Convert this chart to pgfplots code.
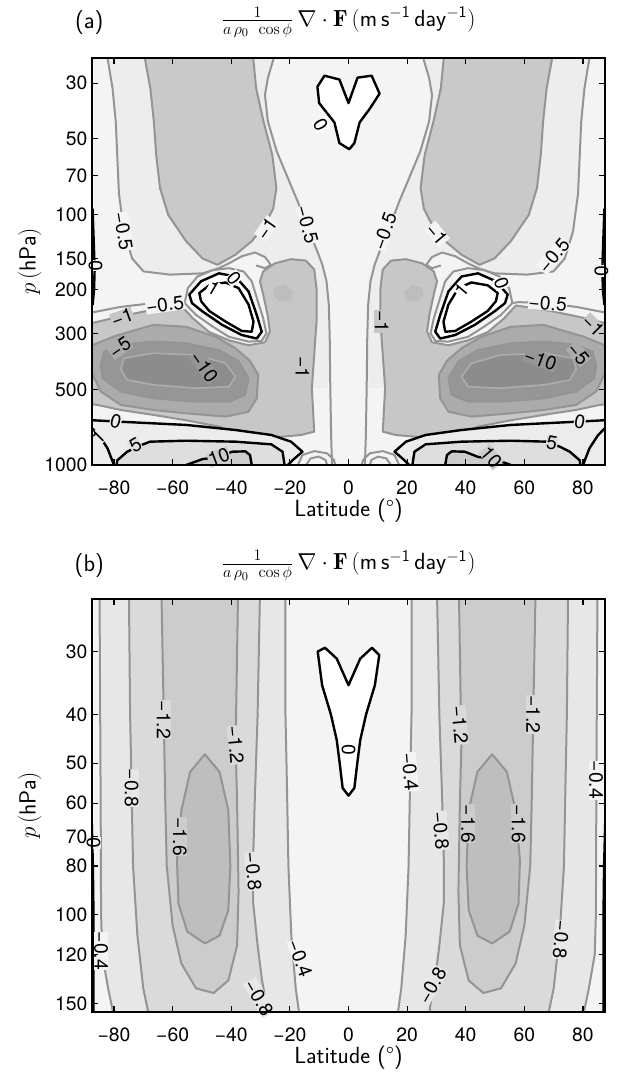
\documentclass[border=0pt]{standalone}
\usepackage{pgfplots}
\pgfplotsset{compat=1.18}
\usepackage{pgfplotstable}
\usepackage{fontspec}
\newfontfamily\heros{TeX Gyre Heros}

% grey levels of the filled contours
\definecolor{bgA}{gray}{0.957}
\definecolor{cBand}{gray}{0.93}
\definecolor{cLobe}{gray}{0.79}
\definecolor{cBlob}{gray}{0.78}
\definecolor{cFive}{gray}{0.67}
\definecolor{cTen}{gray}{0.59}
\definecolor{cCore}{gray}{0.55}
\definecolor{cPatch}{gray}{0.74}
\definecolor{pOne}{gray}{0.925}
\definecolor{pFive}{gray}{0.87}
\definecolor{pTen}{gray}{0.80}
\definecolor{cB1}{gray}{0.905}
\definecolor{cB2}{gray}{0.855}
\definecolor{cB3}{gray}{0.80}
\definecolor{cB4}{gray}{0.745}
\definecolor{cline}{gray}{0.58}
\definecolor{cinner}{gray}{0.68}

% ---------------- panel (a): southern half, mirrored for the north
% light band between the -0.5 contours, above the lower blob
\pgfplotstableread{
x y
-82.5 20
-82.2 23.8
-80.5 31.4
-79.4 42.6
-78.9 57.9
-78.3 83
-76.6 117
-73.8 150
-69.9 169
-61 174
-49.8 172
-44.2 164
-40.8 157
-36.4 147
-31.9 142
-28.5 148
-25.2 157
-19.6 151
-14.5 153
-11.7 166
-10.9 197
-10.9 268
-11.7 364
-12.5 494
-7 494
-6.4 312
-6.7 230
-7.5 185
-8.9 159
-10.6 141
-12.9 121
-15.1 104
-17.3 89
-20.7 71.6
-24.5 56
-27.5 42.6
-28.5 33.4
-27.5 28.6
-25.5 23.8
-25.5 20
}\aBand
% outer -0.5 contour
\pgfplotstableread{
x y
-82.5 20
-82.2 23.8
-80.5 31.4
-79.4 42.6
-78.9 57.9
-78.3 83
-76.6 117
-73.8 150
-69.9 169
-61 174
-49.8 172
-44.2 164
-40.8 157
-36.4 147
-31.9 142
-28.5 148
-26.5 159
-28.5 164
-31.5 160
}\aOutL
% inner -0.5 contour
\pgfplotstableread{
x y
-25.5 20
-25.5 23.8
-27.5 28.6
-28.5 33.4
-27.5 42.6
-24.5 56
-20.7 71.6
-17.3 89
-15.1 104
-12.9 121
-10.6 141
-8.9 159
-7.5 185
-6.7 230
-6.4 312
-6.2 494
-5.9 783
-5.6 1000
-5.6 1100
}\aInL
% upper lobe, -1 contour
\pgfplotstableread{
x y
-69.5 20
-69.5 23.8
-67.6 31.4
-66.4 42.6
-65.6 57.9
-64.3 78.6
-61.5 100.5
-55.4 128
-49.8 150
-44.7 159
-38.6 145
-33 128
-28.5 110
-25.7 95
-24.6 78.6
-26 57.9
-29 42.6
-31.5 31.4
-32.5 23.8
-32.6 20
}\aUp
% lower blob and tower, -1 contour
\pgfplotstableread{
x y
-89 285
-87.2 271
-77.7 255
-66.6 240
-57.1 231
-53.1 260
-47.5 295
-40.8 318
-34.1 333
-28.5 324
-26.8 293
-27.6 252
-29.1 209
-30.2 185
-29.1 169
-25.2 157
-19.6 151
-14.5 153
-11.7 166
-10.9 197
-10.9 268
-11.7 364
-12.5 494
-12 631
-11.7 736
-16.2 759
-26.3 778
-37.5 757
-44.2 703
-55.4 663
-66.6 631
-77.7 603
-85.6 576
-89 570
}\aLoA
% -5 contour
\pgfplotstableread{
x y
-89 332
-87.2 332
-80 307
-66.6 276
-55.4 281
-45.3 308
-38.6 342
-33.6 384
-30.8 437
-31.3 542
-34.1 613
-41.9 641
-55.4 622
-66.6 603
-77.7 576
-84.5 509
-87.2 437
-89 437
}\aLoB
% -10 contour
\pgfplotstableread{
x y
-83.3 353
-77.7 332
-66.6 322
-55.4 327
-44.2 348
-37.5 386
-34.1 451
-35.2 525
-40.8 559
-52 559
-66.6 542
-77.7 509
-83.9 451
-84.5 399
}\aLoC
% innermost contour of the blob
\pgfplotstableread{
x y
-76.6 375
-66.6 358
-52 364
-41.9 393
-38.6 444
-40.8 487
-52 494
-66.6 479
-75.5 458
-77.7 414
}\aLoD
% darker patch in the tower
\pgfplotstableread{
x y
-25.2 197
-21.8 191
-19 203
-19.6 221
-23 224
-25.7 212
}\aPatch
% -0.5 ring round the positive cell
\pgfplotstableread{
x y
-55.9 226
-54.8 197
-51.5 177
-46.4 167
-40.8 164
-35.8 169
-33 185
-31.3 215
-29.1 260
-28 298
-29.6 320
-34.1 322
-40.8 308
-46.4 280
-52 252
}\aRing
% 0 contour of the positive cell
\pgfplotstableread{
x y
-54.3 209
-50.3 185
-44.2 172
-38.6 177
-34.1 203
-31.3 252
-29.6 294
-31.3 313
-36.4 303
-43.1 276
-49.8 244
-53.4 226
}\aLoopZ
% 1 contour of the positive cell
\pgfplotstableread{
x y
-50.9 206
-47.5 192
-41.9 187
-37.5 197
-34.1 229
-32.4 268
-33 294
-36.4 292
-41.9 268
-47.5 243
-50.3 222
}\aLoopP
% -0.5 contour coming in from the pole
\pgfplotstableread{
x y
-90 248
-87.2 246
-77.7 234
-66.6 226
-58 224
-55.9 226
}\aMidL
% 0 contour near the ground
\pgfplotstableread{
x y
-90 660
-87.2 663
-77.7 672
-55.4 692
-38.6 725
-26.3 759
-19.6 807
-15.7 885
-19 955
-20.7 1000
-21.5 1100
-90 1100
}\aPos
% 5 contour
\pgfplotstableread{
x y
-79.5 1100
-78.9 958
-75.5 885
-72.1 845
-67.7 807
-55.4 800
-38.6 807
-26.3 827
-22.5 885
-21.8 1000
-21.8 1100
}\aPosB
% 10 contour
\pgfplotstableread{
x y
-56 1100
-55.4 1000
-49.8 947
-44.2 928
-39.7 885
-35.2 882
-33.6 912
-33 1000
-33 1100
}\aPosC
% 1 contour in the polar corner
\pgfplotstableread{
x y
-89 700
-87.2 718
-85 764
-82.2 858
-80 1000
-79.5 1100
}\aPosOne
\pgfplotstableread{
x y
-17.6 1100
-17.3 1000
-15.7 912
-11.7 880
-7.3 898
-5 953
-4.5 1000
-4.4 1100
}\aArcA
\pgfplotstableread{
x y
-14.6 1100
-14.5 1000
-12.9 941
-10.1 926
-7.8 955
-7.3 1000
-7.3 1100
}\aArcB
\pgfplotstableread{
x y
-87.3 95
-86.9 130
-86.6 165
-86.8 200
-87.3 230
}\aEdge
\pgfplotstableread{
x y
-10.6 31
-8.2 28
-3.1 29
0 36
3.1 28.5
7.9 28
10.6 33
7.2 38
3.8 43
2 52
0.3 55
-3.1 52
-4.8 43
-10 36
}\aZero

% ---------------- panel (b)
% -0.4 contours and the band inside them
\pgfplotstableread{
x y
-85 20
-84.7 40
-84.5 70
-84.4 100
-84 120
-82 140
-79 170
-16 170
-18 140
-19.5 110
-20.5 80
-21 55
-21.5 40
-21.5 20
}\bA
% -0.8 contours
\pgfplotstableread{
x y
-75 20
-74.5 40
-74 56
-73.5 80
-72 110
-70 140
-67 170
-27 170
-28 150
-29.5 135
-31 115
-32.5 95
-32.5 77
-32 60
-31 40
-30 20
}\bB
% -1.2 contour
\pgfplotstableread{
x y
-64 20
-63 41
-62.5 60
-62 80
-60 105
-57 125
-52 140
-46 143
-41 135
-38 115
-37.5 90
-38 60
-38.5 46
-38 30
-37.5 20
}\bC
% -1.6 contour
\pgfplotstableread{
x y
-49 48
-44 52
-41 62
-40.3 80
-41 98
-44 110
-49 114
-55 108
-58 95
-58.5 78
-57 62
-54 52
}\bD
\pgfplotstableread{
x y
-87.6 65
-87.2 80
-87 100
-87 160
}\bE
\pgfplotstableread{
x y
-10.5 30
-8 29.5
-4 31
0 35
4 31
8 29.5
10.5 30.5
9 35
6 40
4 45
3 50
2 56
0 58
-2 56
-3 50
-4 45
-6 40
-9 35
}\bZero

% a curve and its mirror image across the equator
\newcommand\sym[2]{%
  \addplot[#1] table {#2} --cycle;
  \addplot[#1] table[x expr=-\thisrow{x}] {#2} --cycle;}
\newcommand\symline[2]{%
  \addplot[#1] table {#2};
  \addplot[#1] table[x expr=-\thisrow{x}] {#2};}

\tikzset{
  glin/.style={draw=cline, line width=1.5pt},
  blin/.style={draw=black, line width=1.8pt},
  lab/.style={font=\heros\fontsize{14.5}{16}\selectfont, inner sep=0.3pt, fill=bgA},
}

\pgfplotsset{
  panel/.style={
    scale only axis, width=384.75pt,
    xmin=-87.5, xmax=87.5,
    enlargelimits=false, clip mode=individual,
    axis on top,
    axis line style={line width=1.1pt},
    tick align=inside, major tick length=4.5pt,
    tick style={line width=0.8pt, black},
    xtick={-80,-60,...,80},
    xticklabels={−80,−60,−40,−20,0,20,40,60,80},
    ticklabel style={font=\heros\fontsize{14.5}{16}\selectfont},
    xticklabel style={anchor=center, yshift=-17pt},
    xlabel={\sffamily Latitude (°)},
    ylabel={$p\,$(\textsf{hPa})},
    label style={font=\fontsize{17.5}{20}\selectfont},
    xlabel style={at={(axis description cs:0.5,0)}, anchor=center, yshift=-34pt},
    ylabel style={at={(axis description cs:-0.121,0.5)}, anchor=center},
    every axis plot/.append style={line join=round},
  },
}

\newcommand\ttl{$\frac{1}{a\,\rho_0\ \cos\phi}\,\nabla\cdot\mathbf{F}\,(\mathsf{m\,s^{-1}\,day^{-1}})$}

\begin{document}
\begin{tikzpicture}
\path[use as bounding box] (-69pt,43.5pt) rectangle (393.75pt,-760.5pt);

% ================= (a)
\begin{axis}[ymode=log, y dir=reverse, yminorticks=false,
  panel, at={(0,0)}, anchor=north west, height=305.25pt,
  ymin=23.8, ymax=1000,
  axis background/.style={fill=bgA},
  ytick={30,50,70,100,150,200,300,500,1000},
  yticklabels={30,50,70,100,150,200,300,500,1000}]
\sym{fill=cBand, draw=none}{\aBand}
\sym{fill=cLobe, glin}{\aUp}
\sym{fill=cBlob, glin}{\aLoA}
\sym{fill=cPatch, draw=none}{\aPatch}
\sym{fill=cFive, glin}{\aLoB}
\sym{fill=cTen, glin}{\aLoC}
\sym{fill=cCore, draw=cinner, line width=1.2pt}{\aLoD}
\sym{fill=bgA, glin}{\aRing}
\sym{fill=white, blin}{\aLoopZ}
\sym{fill=none, blin}{\aLoopP}
\sym{fill=pOne, blin}{\aPos}
\sym{fill=pFive, blin}{\aPosB}
\sym{fill=pTen, blin}{\aPosC}
\symline{blin}{\aPosOne}
\symline{glin}{\aArcA}
\symline{glin}{\aArcB}
\symline{glin}{\aInL}
\symline{glin}{\aOutL}
\symline{glin}{\aMidL}
\symline{blin}{\aEdge}
\addplot[fill=white, blin] table {\aZero} --cycle;

% contour labels, southern half
\node[lab, rotate=-80] at (axis cs:-76.8,117) {−0.5};
\node[lab, rotate=-90] at (axis cs:-86.3,160) {0};
\node[lab, rotate=55] at (axis cs:-28,114) {−1};
\node[lab, rotate=-75] at (axis cs:-14,110) {−0.5};
\node[lab, fill=white, rotate=-30] at (axis cs:-46,197) {1};
\node[lab, fill=white, rotate=-50] at (axis cs:-39.1,180) {0};
\node[lab, rotate=8] at (axis cs:-62.6,229) {−0.5};
\node[lab, fill=cBlob, rotate=20] at (axis cs:-77.2,258) {−1};
\node[lab, fill=cFive, rotate=35] at (axis cs:-78,340) {−5};
\node[lab, fill=cTen, rotate=-55] at (axis cs:-49.2,405) {−10};
\node[lab, fill=cBlob, rotate=-90] at (axis cs:-15.7,409) {−1};
\node[lab, fill=pOne, rotate=-15] at (axis cs:-79.4,668) {0};
\node[lab, fill=pOne, rotate=45] at (axis cs:-85.3,775) {1};
\node[lab, fill=pFive, rotate=30] at (axis cs:-72.7,835) {5};
\node[lab, fill=pTen, rotate=20] at (axis cs:-44.2,928) {10};
\node[lab, fill=white, rotate=-60] at (axis cs:-9.5,44) {0};
% contour labels, northern half
\node[lab, rotate=70] at (axis cs:12.3,117) {−0.5};
\node[lab, rotate=-50] at (axis cs:30.2,120) {−1};
\node[lab, rotate=50] at (axis cs:70,146) {−0.5};
\node[lab, fill=white, rotate=-70] at (axis cs:52.2,188) {0};
\node[lab, fill=white, rotate=50] at (axis cs:38.5,200) {1};
\node[lab, rotate=-5] at (axis cs:68,226) {−0.5};
\node[lab, fill=cBlob, rotate=-45] at (axis cs:83.5,278) {−1};
\node[lab, fill=cFive, rotate=-50] at (axis cs:78.5,360) {−5};
\node[lab, fill=cTen, rotate=-20] at (axis cs:65.5,380) {−10};
\node[lab, fill=cBlob, rotate=-90] at (axis cs:11.3,268) {−1};
\node[lab, fill=pOne, rotate=-10] at (axis cs:78.9,670) {0};
\node[lab, fill=pFive, rotate=-10] at (axis cs:69.4,815) {5};
\node[lab, fill=pTen, rotate=-50] at (axis cs:48.7,930) {10};
\node[lab, rotate=90] at (axis cs:86.3,168) {0};

\node[font=\sffamily\fontsize{18}{20}\selectfont] at (rel axis cs:0,1) [yshift=27pt, xshift=-2pt] {(a)};
\node[font=\fontsize{17.5}{20}\selectfont] at (rel axis cs:0.5,1) [yshift=27pt] {\ttl};
\end{axis}

% ================= (b)
\begin{axis}[ymode=log, y dir=reverse, yminorticks=false,
  panel, at={(0,-405.75pt)}, anchor=north west, height=309.75pt,
  ymin=23.6, ymax=156,
  axis background/.style={fill=bgA},
  ytick={30,40,50,60,70,80,100,120,150},
  yticklabels={30,40,50,60,70,80,100,120,150}]
\sym{fill=cB1, glin}{\bA}
\sym{fill=cB2, glin}{\bB}
\sym{fill=cB3, glin}{\bC}
\sym{fill=cB4, glin}{\bD}
\symline{blin}{\bE}
\addplot[fill=white, blin] table {\bZero} --cycle;

\node[lab, fill=bgA, rotate=-90] at (axis cs:-84.4,118) {−0.4};
\node[lab, fill=bgA, rotate=-90] at (axis cs:-87,72) {0};
\node[lab, fill=cB1, rotate=-90] at (axis cs:-74,56) {−0.8};
\node[lab, fill=cB2, rotate=-90] at (axis cs:-63,41) {−1.2};
\node[lab, fill=cB3, rotate=-90] at (axis cs:-57.5,70) {−1.6};
\node[lab, fill=cB2, rotate=-85] at (axis cs:-38.5,46) {−1.2};
\node[lab, fill=cB1, rotate=-85] at (axis cs:-32.5,82) {−0.8};
\node[lab, fill=bgA, rotate=-70] at (axis cs:-16.5,122) {−0.4};
\node[lab, fill=cB1, rotate=-60] at (axis cs:-30.5,146) {−0.8};
\node[lab, fill=white, rotate=-90] at (axis cs:0,47) {0};

\node[lab, fill=bgA, rotate=-85] at (axis cs:21,52) {−0.4};
\node[lab, fill=cB1, rotate=-85] at (axis cs:31.5,68) {−0.8};
\node[lab, fill=cB2, rotate=-85] at (axis cs:38,42) {−1.2};
\node[lab, fill=cB3, rotate=-90] at (axis cs:40.8,66) {−1.6};
\node[lab, fill=cB3, rotate=-90] at (axis cs:58,66) {−1.6};
\node[lab, fill=cB2, rotate=-90] at (axis cs:63,40) {−1.2};
\node[lab, fill=cB1, rotate=-95] at (axis cs:72.5,112) {−0.8};
\node[lab, fill=bgA, rotate=-90] at (axis cs:84.5,54) {−0.4};
\node[lab, fill=cB1, rotate=60] at (axis cs:28.5,138) {−0.8};

\node[font=\sffamily\fontsize{18}{20}\selectfont] at (rel axis cs:0,1) [yshift=25pt, xshift=-2pt] {(b)};
\node[font=\fontsize{17.5}{20}\selectfont] at (rel axis cs:0.5,1) [yshift=25pt] {\ttl};
\end{axis}
\end{tikzpicture}
\end{document}
